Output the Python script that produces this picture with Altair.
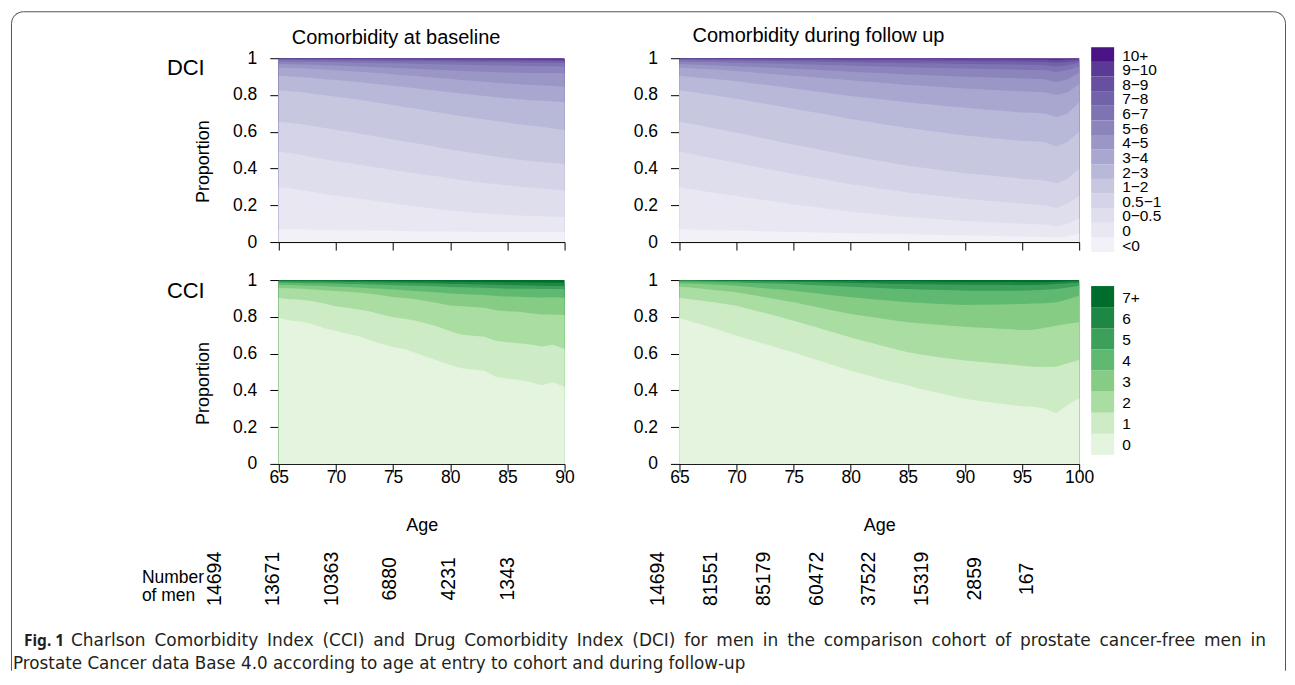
import altair as alt
import pandas as pd

FONT = "Liberation Sans"
CAPFONT = "DejaVu Sans"
BOLDFONT = "Noto Sans"

ages_base = list(range(65, 91))
ages_follow = list(range(65, 101))

dci_cats = ["<0", "0", "0−0.5", "0.5−1", "1−2", "2−3", "3−4", "4−5", "5−6",
            "6−7", "7−8", "8−9", "9−10", "10+"]
dci_colors = ["#f2f1f7", "#e9e8f2", "#dfdeed", "#d4d3e7", "#c7c7e0", "#b8b8d8",
              "#a9a7cf", "#9a96c5", "#8b85bc", "#7e74b3", "#7262a9", "#66509f",
              "#5a3a95", "#4a1486"]
cci_cats = ["0", "1", "2", "3", "4", "5", "6", "7+"]
cci_colors = ["#e5f4df", "#cdebc5", "#aadda2", "#86cc85", "#5fb970", "#3da05a",
              "#1f8744", "#006d2c"]

# ---- DCI at baseline: cumulative upper boundary of each category (ages 65..90)
dci_b_lt0 = [.069, .068, .068, .067, .066, .065, .064, .064, .063, .062, .061, .060, .059,
             .058, .058, .057, .056, .056, .055, .055, .055, .054, .054, .055, .054, .053]
dci_b_0 = [.298, .291, .282, .272, .262, .252, .244, .236, .227, .219, .210, .202, .194,
           .187, .179, .171, .166, .160, .156, .152, .148, .145, .142, .140, .138, .136]
dci_b_0_05 = [.492, .483, .473, .462, .451, .441, .432, .421, .411, .402, .392, .382, .373,
              .364, .356, .346, .338, .330, .322, .316, .309, .302, .297, .292, .286, .280]
dci_b_05_1 = [.655, .648, .641, .631, .620, .610, .601, .590, .579, .569, .558, .547, .537,
              .526, .515, .504, .494, .484, .474, .465, .456, .448, .441, .436, .430, .425]
dci_b_1_2 = [.826, .821, .815, .807, .798, .790, .783, .774, .764, .755, .745, .735, .725,
             .715, .705, .695, .685, .676, .667, .658, .649, .641, .633, .627, .618, .610]
dci_b_2_3 = [.904, .901, .897, .892, .886, .881, .876, .870, .863, .857, .850, .843, .836,
             .829, .822, .815, .808, .801, .795, .788, .782, .777, .772, .769, .764, .760]
dci_b_3_4 = [.949, .947, .945, .942, .938, .935, .931, .927, .922, .918, .913, .908, .903,
             .898, .893, .888, .882, .877, .872, .867, .863, .859, .855, .853, .849, .845]
dci_b_4_5 = [.968, .967, .966, .964, .962, .960, .958, .956, .953, .951, .948, .946, .943,
             .940, .937, .934, .931, .929, .926, .924, .922, .921, .920, .920, .919, .918]
dci_b_5_6 = [.982, .981, .981, .980, .979, .978, .977, .976, .975, .973, .972, .971, .970,
             .968, .967, .966, .964, .963, .962, .961, .960, .959, .958, .957, .956, .955]
dci_b_6_7 = [.991, .990, .990, .989, .989, .988, .987, .987, .986, .985, .985, .984, .983,
             .983, .982, .981, .980, .980, .979, .978, .978, .977, .976, .976, .975, .974]
dci_b_7_8 = [.996, .996, .995, .995, .995, .994, .994, .994, .993, .993, .992, .992, .991,
             .991, .990, .990, .989, .989, .988, .988, .987, .987, .986, .986, .985, .984]
dci_b_8_9 = [.998, .998, .998, .998, .998, .997, .997, .997, .997, .996, .996, .996, .996,
             .995, .995, .995, .994, .994, .994, .993, .993, .993, .992, .992, .992, .991]
dci_b_9_10 = [.9995, .9995, .9994, .9994, .9993, .9993, .9992, .9992, .9991, .9990, .9990,
              .9989, .9988, .9987, .9986, .9985, .9984, .9982, .9981, .9979, .9977, .9975,
              .9972, .9969, .9965, .9960]

# ---- DCI during follow up (ages 65..100)
dci_f_lt0 = [.069, .068, .066, .065, .063, .062, .061, .059, .058, .056, .055, .054, .052,
             .051, .049, .048, .047, .046, .044, .043, .042, .041, .040, .038, .037, .036,
             .035, .034, .033, .031, .030, .029, .028, .025, .030, .045]
dci_f_0 = [.298, .288, .278, .268, .259, .250, .241, .232, .223, .214, .205, .197, .189,
           .181, .173, .165, .159, .153, .147, .141, .135, .131, .127, .123, .119, .115,
           .112, .109, .106, .103, .100, .097, .095, .085, .100, .130]
dci_f_0_05 = [.492, .480, .467, .455, .442, .430, .418, .406, .394, .382, .370, .359, .348,
              .337, .326, .315, .306, .297, .288, .279, .270, .263, .256, .249, .242, .235,
              .230, .225, .220, .215, .210, .205, .200, .185, .210, .250]
dci_f_05_1 = [.655, .643, .631, .619, .607, .595, .582, .569, .556, .543, .530, .518, .506,
              .494, .482, .470, .459, .448, .437, .426, .415, .407, .399, .391, .383, .375,
              .369, .363, .357, .351, .345, .340, .335, .320, .345, .400]
dci_f_1_2 = [.826, .817, .808, .799, .789, .780, .769, .758, .747, .736, .725, .714, .703,
             .692, .681, .670, .660, .650, .640, .630, .620, .612, .604, .596, .588, .580,
             .574, .568, .562, .556, .550, .548, .545, .520, .545, .600]
dci_f_2_3 = [.904, .898, .893, .887, .881, .875, .867, .859, .851, .843, .835, .827, .819,
             .811, .803, .795, .788, .781, .774, .767, .760, .754, .748, .742, .736, .730,
             .725, .720, .715, .710, .705, .703, .700, .680, .700, .760]
dci_f_3_4 = [.949, .945, .941, .938, .934, .930, .925, .920, .915, .910, .905, .900, .895,
             .890, .885, .880, .875, .870, .865, .860, .855, .851, .847, .843, .839, .835,
             .832, .829, .826, .823, .820, .818, .815, .800, .815, .860]
dci_f_4_5 = [.968, .966, .964, .962, .959, .957, .954, .951, .949, .946, .943, .940, .937,
             .933, .930, .927, .924, .921, .918, .915, .912, .910, .907, .905, .902, .900,
             .898, .896, .894, .892, .890, .888, .885, .870, .885, .920]
dci_f_5_6 = [.982, .981, .980, .979, .977, .976, .974, .973, .971, .970, .968, .966, .965,
             .963, .962, .960, .958, .956, .955, .953, .951, .950, .948, .947, .945, .944,
             .943, .941, .940, .938, .937, .936, .935, .925, .935, .955]
dci_f_6_7 = [.991, .990, .989, .989, .988, .987, .986, .985, .985, .984, .983, .982, .981,
             .980, .979, .978, .977, .976, .975, .974, .973, .972, .972, .971, .970, .969,
             .968, .967, .967, .966, .965, .964, .962, .955, .962, .975]
dci_f_7_8 = [.996, .996, .995, .995, .994, .994, .993, .993, .992, .992, .991, .991, .990,
             .990, .989, .989, .989, .988, .988, .987, .987, .987, .986, .986, .985, .985,
             .984, .984, .983, .983, .982, .981, .980, .975, .980, .988]
dci_f_8_9 = [.998, .998, .998, .998, .997, .997, .997, .997, .997, .996, .996, .996, .996,
             .996, .995, .995, .995, .995, .995, .994, .994, .994, .994, .994, .993, .993,
             .993, .993, .993, .992, .992, .991, .990, .988, .990, .995]
dci_f_9_10 = [.9995, .9995, .9994, .9994, .9993, .9993, .9992, .9992, .9991, .9991, .9990,
              .9990, .9989, .9989, .9988, .9987, .9987, .9986, .9985, .9984, .9984, .9983,
              .9982, .9981, .9980, .9979, .9978, .9977, .9976, .9974, .9972, .9968, .9962,
              .9950, .9962, .9980]

# ---- CCI at baseline (ages 65..90)
cci_b_0 = [.793, .780, .774, .758, .738, .724, .708, .694, .672, .652, .636, .625, .603,
           .580, .560, .538, .520, .514, .507, .472, .463, .458, .445, .428, .444, .418]
cci_b_1 = [.902, .896, .893, .884, .872, .858, .849, .840, .829, .812, .798, .790, .778,
           .762, .744, .722, .702, .697, .691, .670, .662, .656, .650, .638, .648, .625]
cci_b_2 = [.957, .955, .952, .949, .945, .941, .937, .932, .925, .917, .908, .902, .895,
           .885, .874, .862, .857, .853, .849, .836, .830, .827, .820, .812, .813, .810]
cci_b_3 = [.974, .973, .971, .969, .967, .964, .962, .959, .956, .952, .948, .945, .941,
           .937, .932, .927, .924, .921, .918, .913, .910, .909, .907, .905, .906, .904]
cci_b_4 = [.986, .985, .984, .983, .982, .981, .979, .978, .976, .974, .972, .971, .969,
           .967, .965, .962, .961, .959, .958, .955, .953, .953, .952, .951, .951, .950]
cci_b_5 = [.994, .994, .993, .993, .992, .991, .990, .989, .988, .987, .986, .985, .984,
           .982, .981, .979, .978, .977, .976, .974, .973, .972, .971, .969, .968, .967]
cci_b_6 = [.998, .998, .998, .997, .997, .997, .996, .996, .995, .995, .994, .994, .993,
           .993, .992, .991, .991, .990, .990, .989, .988, .988, .987, .986, .986, .985]

# ---- CCI during follow up (ages 65..100)
cci_f_0 = [.793, .775, .757, .738, .717, .697, .679, .660, .642, .624, .606, .586, .566,
           .546, .527, .507, .490, .473, .457, .441, .426, .410, .395, .381, .367, .355,
           .345, .337, .328, .320, .314, .311, .300, .275, .322, .357]
cci_f_1 = [.902, .895, .887, .879, .870, .860, .844, .828, .812, .796, .779, .761, .743,
           .724, .706, .688, .671, .655, .638, .622, .607, .597, .587, .578, .570, .562,
           .557, .551, .545, .540, .534, .528, .527, .529, .548, .565]
cci_f_2 = [.964, .959, .953, .946, .940, .933, .923, .912, .901, .890, .879, .866, .853,
           .840, .828, .815, .806, .797, .788, .779, .770, .765, .760, .755, .750, .746,
           .742, .739, .735, .732, .728, .730, .740, .752, .762, .770]
cci_f_3 = [.982, .981, .979, .976, .973, .969, .964, .958, .953, .948, .942, .935, .928,
           .920, .913, .906, .901, .895, .890, .884, .879, .876, .873, .870, .867, .864,
           .865, .866, .867, .868, .870, .872, .874, .879, .895, .915]
cci_f_4 = [.993, .992, .991, .989, .988, .986, .984, .983, .981, .980, .978, .975, .972,
           .969, .966, .963, .961, .958, .956, .953, .951, .949, .947, .946, .944, .942,
           .942, .942, .942, .942, .942, .944, .947, .951, .960, .969]
cci_f_5 = [.997, .997, .996, .996, .995, .995, .994, .993, .992, .991, .990, .989, .988,
           .987, .985, .984, .983, .982, .980, .979, .978, .977, .977, .976, .976, .975,
           .975, .974, .974, .973, .972, .973, .975, .978, .983, .987]
cci_f_6 = [.999, .999, .999, .998, .998, .998, .998, .997, .997, .997, .996, .996, .996,
           .995, .995, .995, .994, .994, .994, .993, .993, .992, .992, .991, .991, .990,
           .990, .990, .989, .989, .988, .988, .988, .990, .993, .995]

# ---- number of men
n_base = ["14694", "13671", "10363", "6880", "4231", "1343"]
n_follow = ["14694", "81551", "85179", "60472", "37522", "15319", "2859", "167"]

ticks_base = [65, 70, 75, 80, 85, 90]
ticks_follow = [65, 70, 75, 80, 85, 90, 95, 100]

caption_bold = "Fig. 1"
caption_l1 = ("Charlson Comorbidity Index (CCI) and Drug Comorbidity Index (DCI) for men in "
              "the comparison cohort of prostate cancer-free men in")
caption_l2 = ("Prostate Cancer data Base 4.0 according to age at entry to cohort and during "
              "follow-up")
# the first caption line is justified in the figure: widen its word gaps a little
caption_l1_justified = caption_l1.replace(" ", " \u2009")

W_BASE, W_FOLLOW, H = 286, 400, 184
TICK_FS, TITLE_FS, AXT_FS, ROW_FS, LEG_FS, NUM_FS = 17.5, 20, 18, 22, 15.5, 19.5
FRAME = "#555555"


def panel(ages, uppers, colors, width, xmax, ticks, show_xlab, ytitle):
    xaxis = alt.Axis(values=ticks, labels=show_xlab, title="Age" if show_xlab else None,
                     tickSize=8, labelPadding=-3, titlePadding=30, grid=False,
                     labelFlush=False, labelFontSize=TICK_FS, titleFontSize=AXT_FS)
    yaxis = alt.Axis(values=[0, 0.2, 0.4, 0.6, 0.8, 1], format="~g", title=ytitle,
                     tickSize=9, labelPadding=13, titlePadding=20, grid=False,
                     labelFlush=False, labelFontSize=TICK_FS, titleFontSize=AXT_FS,
                     titleY=H / 2 + 11)
    layers = []
    full = [1.0] * len(ages)
    series = list(uppers) + [full]
    # draw from the top category down, each area from 0 to its cumulative top
    for up, col in reversed(list(zip(series, colors))):
        df = pd.DataFrame({"age": ages, "upper": up})
        layers.append(
            alt.Chart(df).mark_area(color=col, interpolate="linear").encode(
                x=alt.X("age:Q", scale=alt.Scale(domain=[65, xmax], nice=False, zero=False),
                        axis=xaxis),
                y=alt.Y("upper:Q", scale=alt.Scale(domain=[0, 1], nice=False), axis=yaxis),
            )
        )
    return alt.layer(*layers)


def text_layer(text, x, y, size, font=FONT, weight="normal", color="black", **kw):
    return alt.Chart(pd.DataFrame({"t": [text]})).mark_text(
        align="left", baseline="middle", fontSize=size, font=font, fontWeight=weight,
        color=color, x=x, y=y, **kw
    ).encode(text="t:N")


def numbers_layer(values, rng):
    df = pd.DataFrame({"i": list(range(len(values))), "n": values})
    return alt.Chart(df).mark_text(
        angle=270, align="center", baseline="middle", fontSize=NUM_FS, font=FONT,
        color="black", y=H + 115
    ).encode(
        x=alt.X("i:Q", scale=alt.Scale(domain=[0, len(values) - 1], range=rng, nice=False,
                                       zero=False), axis=None),
        text="n:N",
    )


def legend_layer(cats, colors, rng, x0, field):
    df = pd.DataFrame({field: cats})
    order = cats[::-1]
    y = alt.Y(f"{field}:N", sort=order,
              scale=alt.Scale(range=rng, paddingInner=0, paddingOuter=0), axis=None)
    rects = alt.Chart(df).mark_rect().encode(
        y=y, x=alt.value(x0), x2=alt.value(x0 + 23),
        color=alt.Color(f"{field}:N", scale=alt.Scale(domain=cats, range=colors),
                        legend=None),
    )
    labels = alt.Chart(df).mark_text(
        align="left", baseline="middle", fontSize=LEG_FS, font=FONT, color="black",
        x=x0 + 31, dy=1
    ).encode(y=y, text=f"{field}:N")
    return alt.layer(rects, labels)


def title(t):
    return alt.TitleParams(t, anchor="start", frame="group", dx=13, fontSize=TITLE_FS,
                           font=FONT, fontWeight="normal", offset=1, color="black")


one = pd.DataFrame({"t": [0]})


def frame_layers():
    # rounded frame of the figure (open at the bottom of the page), relative to CCI panel
    xl, xr, yt, yb, r = -267.5, 1007.5, -268.5, 391, 12
    rule = lambda **e: alt.Chart(one).mark_rule(color=FRAME, strokeWidth=1).encode(**e)
    arc = lambda cx, t0, t1: alt.Chart(one).mark_arc(
        color=FRAME, radius=r + 0.5, radius2=r - 0.5, theta=t0, theta2=t1).encode(
        x=alt.value(cx), y=alt.value(yt + r))
    return [
        rule(x=alt.value(xl), y=alt.value(yt + r), y2=alt.value(yb)),
        rule(x=alt.value(xr), y=alt.value(yt + r), y2=alt.value(yb)),
        rule(x=alt.value(xl + r), x2=alt.value(xr - r), y=alt.value(yt)),
        arc(xl + r, 4.71239, 6.28319),
        arc(xr - r, 0.0, 1.5708),
    ]


dci_base = alt.layer(
    panel(ages_base, [dci_b_lt0, dci_b_0, dci_b_0_05, dci_b_05_1, dci_b_1_2, dci_b_2_3,
                      dci_b_3_4, dci_b_4_5, dci_b_5_6, dci_b_6_7, dci_b_7_8, dci_b_8_9,
                      dci_b_9_10], dci_colors, W_BASE, 90, ticks_base, False, "Proportion"),
    text_layer("DCI", -112, 10, ROW_FS),
).properties(title=title("Comorbidity at baseline"), width=W_BASE, height=H)

dci_follow = alt.layer(
    panel(ages_follow, [dci_f_lt0, dci_f_0, dci_f_0_05, dci_f_05_1, dci_f_1_2, dci_f_2_3,
                        dci_f_3_4, dci_f_4_5, dci_f_5_6, dci_f_6_7, dci_f_7_8, dci_f_8_9,
                        dci_f_9_10], dci_colors, W_FOLLOW, 100, ticks_follow, False, None),
    legend_layer(dci_cats, dci_colors, [-11, 194], W_FOLLOW + 12, "dci"),
).resolve_scale(y="independent").properties(
    title=title("Comorbidity during follow up"), width=W_FOLLOW, height=H)

cci_base = alt.layer(
    panel(ages_base, [cci_b_0, cci_b_1, cci_b_2, cci_b_3, cci_b_4, cci_b_5, cci_b_6],
          cci_colors, W_BASE, 90, ticks_base, True, "Proportion"),
    numbers_layer(n_base, [-64, 229]),
    text_layer("CCI", -112, 11, ROW_FS),
    alt.Chart(one).mark_text(
        align="left", baseline="middle", fontSize=17.5, font=FONT, color="black",
        x=-137, y=H + 114, lineHeight=18, text=["Number", "of men"]),
    # caption
    text_layer(caption_bold, -255, 361, 15.5, font=BOLDFONT, weight="bold", color="#231f20"),
    text_layer(caption_l1_justified, -208, 361, 17, font=CAPFONT, color="#231f20"),
    text_layer(caption_l2, -266, 384, 16.8, font=CAPFONT, color="#231f20"),
    *frame_layers(),
).resolve_scale(x="independent").properties(width=W_BASE, height=H)

cci_follow = alt.layer(
    panel(ages_follow, [cci_f_0, cci_f_1, cci_f_2, cci_f_3, cci_f_4, cci_f_5, cci_f_6],
          cci_colors, W_FOLLOW, 100, ticks_follow, True, None),
    numbers_layer(n_follow, [-21, 348]),
    legend_layer(cci_cats, cci_colors, [6, 175], W_FOLLOW + 12, "cci"),
).resolve_scale(x="independent", y="independent").properties(width=W_FOLLOW, height=H)

chart = alt.concat(
    dci_base, dci_follow, cci_base, cci_follow, columns=2,
    spacing={"row": 38, "column": 115}, bounds="flush"
).resolve_scale(color="independent").properties(
    padding={"left": 2, "top": 2, "right": 0, "bottom": 0}, background="white"
).configure_view(stroke="transparent").configure_axis(
    domainColor="black", tickColor="black", labelColor="black", titleColor="black",
    labelFont=FONT, titleFont=FONT, titleFontWeight="normal", domainWidth=1, tickWidth=1
)

chart.save("out.html", embed_options={"renderer": "svg", "actions": False})
